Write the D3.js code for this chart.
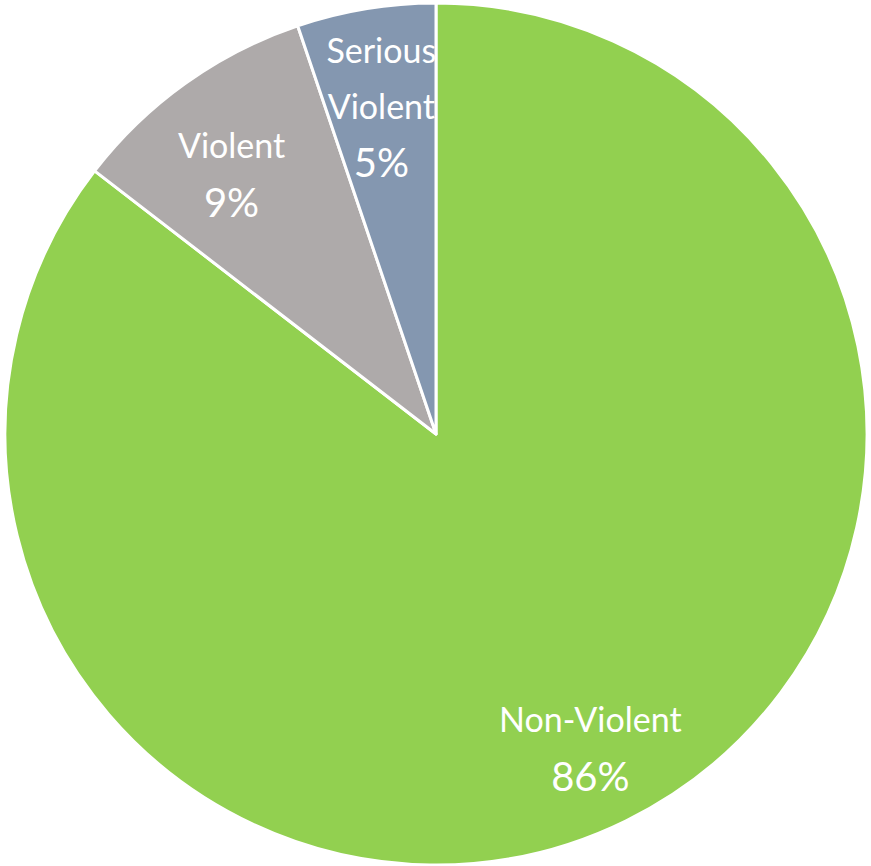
<!DOCTYPE html>
<html>
<head>
<meta charset="utf-8">
<script src="https://cdn.jsdelivr.net/npm/d3@7"></script>
<style>
  body { margin: 0; background: #fff; }
  svg { display: block; }
</style>
</head>
<body>
<div id="vis"></div>
<script>
// pie data
let categories = ['Non-Violent', 'Violent', 'Serious Violent'];
let values = [85.45, 9.35, 5.2];
let pctLabels = ['86%', '9%', '5%'];
let nameLines = [['Non-Violent'], ['Violent'], ['Serious', 'Violent']];
let colors = ['#92D050', '#AEAAAA', '#8497B0'];

let width = 871, height = 866;
let cx = 436, cy = 434, radius = 431;

let svg = d3.select('#vis')
  .append('svg')
  .attr('width', width)
  .attr('height', height);

let g = svg.append('g')
  .attr('transform', 'translate(' + cx + ',' + cy + ')');

let pie = d3.pie().sort(null).value(d => d);
let arcs = pie(values);

let arc = d3.arc().innerRadius(0).outerRadius(radius);
// labels sit about 0.78 of the way out along each slice's middle
let labelArc = d3.arc().innerRadius(radius * 0.78).outerRadius(radius * 0.78);
// small nudges so the labels land where excel put them
let nudge = [[6, 13], [-9, 14], [0, 5]];

// clip paths so labels can't spill over the slice edge
let defs = svg.append('defs');
arcs.forEach((a, i) => {
  defs.append('clipPath')
    .attr('id', 'clip' + i)
    .append('path')
    .attr('transform', 'translate(' + cx + ',' + cy + ')')
    .attr('d', arc(a));
});

g.selectAll('path.slice')
  .data(arcs)
  .enter()
  .append('path')
  .attr('class', 'slice')
  .attr('d', arc)
  .attr('fill', (d, i) => colors[i])
  .attr('stroke', '#fff')
  .attr('stroke-width', 3)
  .attr('stroke-linejoin', 'round');

let lineGap = [57, 57, 56];

arcs.forEach((a, i) => {
  let c = labelArc.centroid(a);
  let x = c[0] + nudge[i][0];
  let lines = nameLines[i];
  let n = lines.length + 1;
  let top = c[1] + nudge[i][1] - (n - 1) * lineGap[i] / 2;

  let lg = svg.append('g')
    .attr('clip-path', i == 2 ? 'url(#clip' + i + ')' : null)
    .append('g')
    .attr('transform', 'translate(' + cx + ',' + cy + ')');

  lines.forEach((t, j) => {
    lg.append('text')
      .attr('x', x)
      .attr('y', top + j * lineGap[i] + 12)
      .attr('text-anchor', 'middle')
      .attr('fill', '#fff')
      .style('font-family', 'Lato, "Open Sans", sans-serif')
      .style('font-size', '34px')
      .text(t);
  });

  lg.append('text')
    .attr('x', x)
    .attr('y', top + lines.length * lineGap[i] + 14)
    .attr('text-anchor', 'middle')
    .attr('fill', '#fff')
    .style('font-family', 'Lato, "Open Sans", sans-serif')
    .style('font-size', '40px')
    .text(pctLabels[i]);
});
</script>
</body>
</html>
